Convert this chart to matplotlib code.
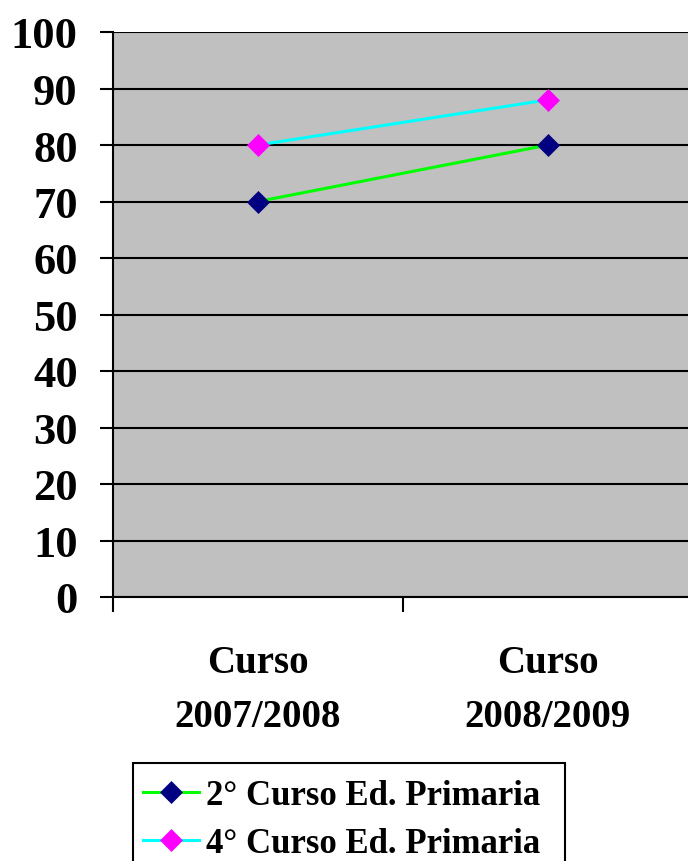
import matplotlib
matplotlib.use("Agg")
import matplotlib.pyplot as plt
from matplotlib.patches import Rectangle

categories = ["Curso\n2007/2008", "Curso\n2008/2009"]
series_names = ["2° Curso Ed. Primaria", "4° Curso Ed. Primaria"]
serie_2 = [70, 80]
serie_4 = [80, 88]
y_ticks = [0, 10, 20, 30, 40, 50, 60, 70, 80, 90, 100]

plt.rcParams['font.family'] = ['Liberation Serif', 'DejaVu Serif']
plt.rcParams['font.weight'] = 'bold'

fig = plt.figure(figsize=(6.88, 8.62), dpi=100)
W, H = 688, 862
left, right, top, bottom = 113, 693, 33, 598
ax = fig.add_axes([left / W, 1 - bottom / H, (right - left) / W, (bottom - top) / H])
ax.set_facecolor('#c0c0c0')

x = list(range(len(categories)))
ax.plot(x, serie_2, color='#00ff00', lw=2.2, marker='D', markersize=11.5,
        markerfacecolor='#000080', markeredgecolor='#000080', markeredgewidth=0.5,
        label=series_names[0], zorder=3)
ax.plot(x, serie_4, color='#00ffff', lw=2.2, marker='D', markersize=11.5,
        markerfacecolor='#ff00ff', markeredgecolor='#ff00ff', markeredgewidth=0.5,
        label=series_names[1], zorder=3)

ax.set_xlim(-0.5, len(categories) - 0.5)
ax.set_ylim(0, 100)
ax.set_yticks(y_ticks)
ax.set_yticklabels([str(v) for v in y_ticks], fontsize=32, fontweight='bold')
ax.yaxis.grid(True, color='black', lw=1.5)
ax.set_axisbelow(True)

ax.set_xticks([-0.5, 0.5, 1.5])
ax.set_xticklabels([])
ax.set_xticks(x, minor=True)
ax.set_xticklabels(categories, minor=True, fontsize=28, fontweight='bold', linespacing=1.6)
ax.tick_params(axis='x', which='minor', length=0, pad=34)
ax.tick_params(axis='x', which='major', length=11, width=1.5, direction='out')
ax.tick_params(axis='y', length=9.4, width=1.5, direction='out', pad=16)

for s in ['top', 'right']:
    ax.spines[s].set_visible(False)
for s in ['left', 'bottom']:
    ax.spines[s].set_linewidth(1.5)
    ax.spines[s].set_color('black')

# legend frame (cut by the bottom edge, as in the reference)
fig.patches.append(Rectangle((133 / W, -0.05), (565 - 133) / W, (1 - 764 / H) + 0.05,
                             transform=fig.transFigure, facecolor='white',
                             edgecolor='black', lw=1.5, zorder=1))

leg = fig.legend(loc='upper left', bbox_to_anchor=(143 / W, 1 - 780 / H),
                 prop={'weight': 'bold', 'size': 25},
                 handlelength=1.6, handletextpad=0.2, labelspacing=0.43,
                 borderpad=0, borderaxespad=0, frameon=False)
leg.set_zorder(2)

fig.savefig('out.png', dpi=100)
